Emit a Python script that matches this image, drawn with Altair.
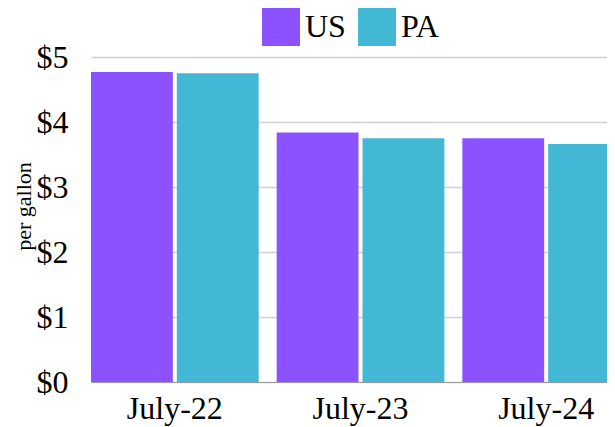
import altair as alt
import pandas as pd

months = ["July-22", "July-23", "July-24"]
series = ["US", "PA"]
us_values = [4.77, 3.84, 3.75]
pa_values = [4.75, 3.75, 3.66]
y_ticks = [0, 1, 2, 3, 4, 5]

rows = []
for m, u, p in zip(months, us_values, pa_values):
    rows.append({"month": m, "region": "US", "price": u})
    rows.append({"month": m, "region": "PA", "price": p})
df = pd.DataFrame(rows)

FONT = "Liberation Serif"

chart = alt.Chart(df).mark_bar(clip=True).encode(
    x=alt.X("month:N", sort=months,
            scale=alt.Scale(range=[0, 539], paddingInner=0.097, paddingOuter=0),
            axis=alt.Axis(title=None, labelAngle=0, labelFontSize=32, labelFont=FONT,
                          labelColor="black", ticks=False, labelPadding=11,
                          domainColor="#999999", domainWidth=1, grid=False)),
    xOffset=alt.XOffset("region:N", sort=series,
                        scale=alt.Scale(paddingInner=0.0465, paddingOuter=0)),
    y=alt.Y("price:Q", scale=alt.Scale(domain=[0, 5], nice=False),
            axis=alt.Axis(title="per gallon", values=y_ticks, format="$.0f",
                          labelFontSize=32, labelFont=FONT, labelColor="black",
                          ticks=False, domain=False, labelPadding=23,
                          gridColor="#d0d0d0", gridWidth=1.5,
                          titleFont=FONT, titleFontSize=22, titleFontWeight="normal",
                          titleColor="black", titleX=-56, titleY=149, titleAngle=270,
                          titleAlign="center", titleBaseline="bottom")),
    color=alt.Color("region:N", sort=series,
                    scale=alt.Scale(domain=series, range=["#8C52FF", "#42B8D5"]),
                    legend=alt.Legend(title=None, orient="none", legendX=171, legendY=-49,
                                      direction="horizontal", symbolType="square",
                                      symbolSize=1444, symbolStrokeWidth=0,
                                      labelFontSize=32, labelFont=FONT, labelColor="black",
                                      labelOffset=5, columnPadding=12, padding=0, offset=0)),
).properties(
    width=516, height=325,
    autosize=alt.AutoSizeParams(type="none"),
    padding={"left": 83, "top": 49, "right": 0, "bottom": 45},
).configure_view(stroke=None)

chart.save("out.html", embed_options={"renderer": "svg", "actions": False})
